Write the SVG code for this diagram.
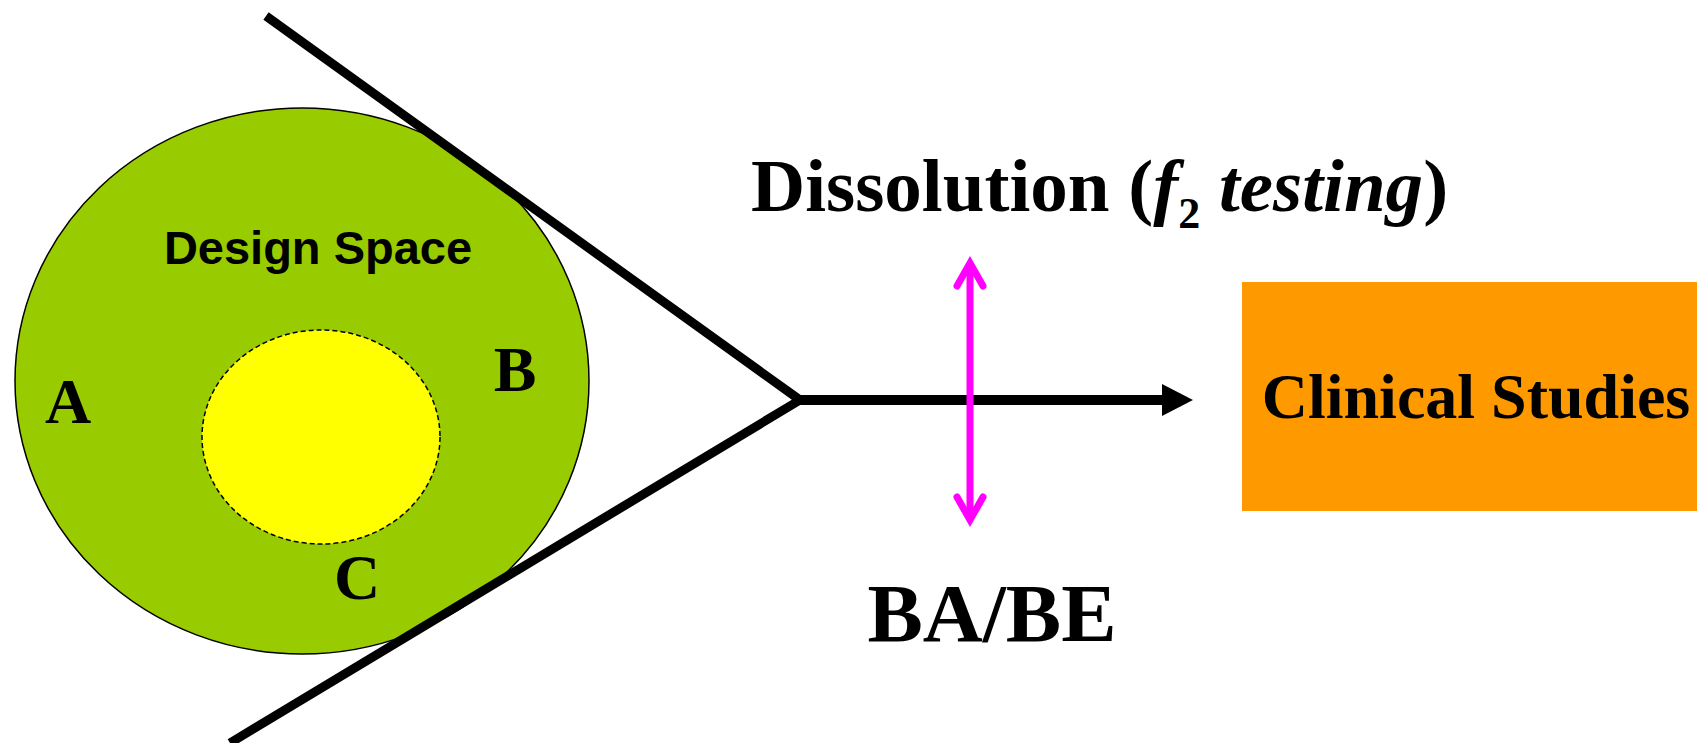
<svg xmlns="http://www.w3.org/2000/svg" width="1697" height="743" viewBox="0 0 1697 743">
  <style>
    .serif { font-family: "Liberation Serif", "Times New Roman", serif; font-weight: bold; fill: #000; }
    .sans { font-family: "Liberation Sans", Arial, sans-serif; font-weight: bold; fill: #000; }
    .blk { stroke: #000; fill: none; }
    .mag { stroke: #FF00FF; stroke-width: 7; fill: none; }
  </style>
  <rect width="1697" height="743" fill="#fff"/>
  <g id="design-space">
    <ellipse cx="302" cy="381" rx="287" ry="273" fill="#99CC00" stroke="#000" stroke-width="1.5"/>
    <text class="sans" x="318" y="264" font-size="47" text-anchor="middle">Design Space</text>
  </g>
  <g id="inner-region">
    <ellipse cx="321" cy="437" rx="119" ry="107" fill="#FFFF00" stroke="#000" stroke-width="1.5" stroke-dasharray="5 3"/>
  </g>
  <g id="label-a"><text class="serif" x="68" y="423" font-size="64" text-anchor="middle">A</text></g>
  <g id="label-b"><text class="serif" x="515" y="391" font-size="64" text-anchor="middle">B</text></g>
  <g id="label-c"><text class="serif" x="357" y="599" font-size="64" text-anchor="middle">C</text></g>
  <g id="clinical-studies">
    <rect x="1242" y="282" width="455" height="229" fill="#FF9900"/>
    <text class="serif" x="1476" y="418" font-size="64" text-anchor="middle">Clinical Studies</text>
  </g>
  <g id="dissolution">
    <text class="serif" x="751" y="211" font-size="75">Dissolution (<tspan font-style="italic">f</tspan><tspan font-size="44" dy="17">2</tspan><tspan dy="-17" font-style="italic"> testing</tspan>)</text>
  </g>
  <g id="babe">
    <text class="serif" x="992" y="641" font-size="83" text-anchor="middle">BA/BE</text>
  </g>
  <g id="connectors">
    <polyline class="blk" points="266,16 800,400 230,743" stroke-width="9" stroke-linejoin="miter"/>
    <line class="blk" x1="798" y1="400" x2="1165" y2="400" stroke-width="10"/>
    <polygon points="1162,384 1193,400 1162,416" fill="#000"/>
    <line class="mag" x1="970" y1="264" x2="970" y2="519"/>
    <polyline class="mag" points="957,286 970,263 983,286" stroke-linecap="round" stroke-linejoin="miter"/>
    <polyline class="mag" points="957,497 970,520 983,497" stroke-linecap="round" stroke-linejoin="miter"/>
  </g>
</svg>
